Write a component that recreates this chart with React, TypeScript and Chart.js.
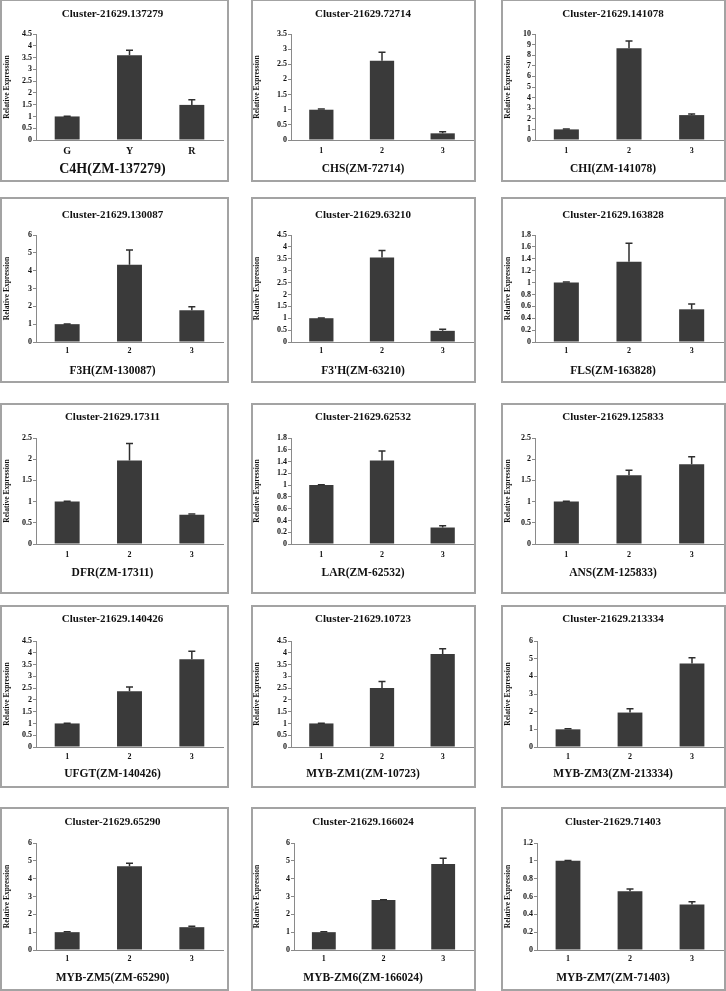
import React, { useEffect, useRef } from 'react';
import { Chart, registerables } from 'chart.js';

Chart.register(...registerables);

// ---------- DATA ----------
const clusterTitles = [
  'Cluster-21629.137279', 'Cluster-21629.72714', 'Cluster-21629.141078',
  'Cluster-21629.130087', 'Cluster-21629.63210', 'Cluster-21629.163828',
  'Cluster-21629.17311', 'Cluster-21629.62532', 'Cluster-21629.125833',
  'Cluster-21629.140426', 'Cluster-21629.10723', 'Cluster-21629.213334',
  'Cluster-21629.65290', 'Cluster-21629.166024', 'Cluster-21629.71403',
];
const geneNames = [
  'C4H(ZM-137279)', 'CHS(ZM-72714)', 'CHI(ZM-141078)',
  'F3H(ZM-130087)', "F3'H(ZM-63210)", 'FLS(ZM-163828)',
  'DFR(ZM-17311)', 'LAR(ZM-62532)', 'ANS(ZM-125833)',
  'UFGT(ZM-140426)', 'MYB-ZM1(ZM-10723)', 'MYB-ZM3(ZM-213334)',
  'MYB-ZM5(ZM-65290)', 'MYB-ZM6(ZM-166024)', 'MYB-ZM7(ZM-71403)',
];
const letterCategories = ['G', 'Y', 'R'];
const numberCategories = ['1', '2', '3'];
const yAxisTitle = 'Relative Expression';

const c4hValues = [1.0, 3.6, 1.49];
const c4hErrors = [0.01, 0.21, 0.22];
const chsValues = [1.0, 2.62, 0.22];
const chsErrors = [0.02, 0.28, 0.05];
const chiValues = [1.0, 8.65, 2.35];
const chiErrors = [0.04, 0.7, 0.1];
const f3hValues = [1.0, 4.33, 1.78];
const f3hErrors = [0.01, 0.83, 0.19];
const f3phValues = [1.0, 3.55, 0.47];
const f3phErrors = [0.01, 0.3, 0.07];
const flsValues = [1.0, 1.35, 0.55];
const flsErrors = [0.01, 0.31, 0.09];
const dfrValues = [1.0, 1.97, 0.69];
const dfrErrors = [0.01, 0.4, 0.02];
const larValues = [1.0, 1.42, 0.28];
const larErrors = [0.005, 0.16, 0.03];
const ansValues = [1.0, 1.62, 1.88];
const ansErrors = [0.01, 0.12, 0.18];
const ufgtValues = [1.0, 2.37, 3.72];
const ufgtErrors = [0.01, 0.18, 0.35];
const mybZm1Values = [1.0, 2.5, 3.95];
const mybZm1Errors = [0.01, 0.28, 0.22];
const mybZm3Values = [1.0, 1.95, 4.72];
const mybZm3Errors = [0.03, 0.22, 0.33];
const mybZm5Values = [1.0, 4.7, 1.28];
const mybZm5Errors = [0.02, 0.16, 0.05];
const mybZm6Values = [1.0, 2.8, 4.82];
const mybZm6Errors = [0.02, 0.02, 0.33];
const mybZm7Values = [1.0, 0.66, 0.51];
const mybZm7Errors = [0.005, 0.025, 0.03];

const yAxisMax = [4.5, 3.5, 10, 6, 4.5, 1.8, 2.5, 1.8, 2.5, 4.5, 4.5, 6, 6, 6, 1.2];
const yAxisStep = [0.5, 0.5, 1, 1, 0.5, 0.2, 0.5, 0.2, 0.5, 0.5, 0.5, 1, 1, 1, 0.2];

const panelValues = [
  c4hValues, chsValues, chiValues, f3hValues, f3phValues, flsValues,
  dfrValues, larValues, ansValues, ufgtValues, mybZm1Values, mybZm3Values,
  mybZm5Values, mybZm6Values, mybZm7Values,
];
const panelErrors = [
  c4hErrors, chsErrors, chiErrors, f3hErrors, f3phErrors, flsErrors,
  dfrErrors, larErrors, ansErrors, ufgtErrors, mybZm1Errors, mybZm3Errors,
  mybZm5Errors, mybZm6Errors, mybZm7Errors,
];

// ---------- LAYOUT (page pixels) ----------
const colBox = [
  { x: 0, w: 229 },
  { x: 251, w: 225 },
  { x: 501, w: 225 },
];
const rowBox = [
  { y: -1, h: 183 },
  { y: 197, h: 186 },
  { y: 403, h: 191 },
  { y: 605, h: 183 },
  { y: 807, h: 184 },
];
const colAxisX = [36, 291, 535];
const colRightX = [223, 473, 723];
const colYTitleX = [7, 257, 508];
const rowTitleY = [14, 215, 417, 619, 822];
const rowTopY = [34, 235, 438, 641, 843];
const rowZeroY = [140, 342, 544, 747, 950];
const rowXLabelY = [151, 351, 555, 757, 959];
const rowXTitleY = [169, 371, 573, 774, 978];
const axisOverride: Record<number, number> = { 11: 537, 13: 294, 14: 537 };

const BORDER = 2;
const FONT = '"Liberation Serif", "Times New Roman", serif';
const BAR_COLOR = '#3a3a3a';
const AXIS_COLOR = '#8a8a8a';
const TEXT_COLOR = '#111';

const errorBarPlugin = {
  id: 'errorBarsDraw',
  afterDatasetsDraw(chart: any) {
    const ds: any = chart.data.datasets[0];
    const errs: number[] = ds.errors || [];
    const meta = chart.getDatasetMeta(0);
    const yScale = chart.scales.y;
    const ctx = chart.ctx;
    ctx.save();
    ctx.strokeStyle = '#2e2e2e';
    ctx.lineWidth = 1.5;
    meta.data.forEach((bar: any, i: number) => {
      const v = ds.data[i] as number;
      const yTop = yScale.getPixelForValue(v + errs[i]);
      ctx.beginPath();
      ctx.moveTo(bar.x, bar.y);
      ctx.lineTo(bar.x, yTop);
      ctx.moveTo(bar.x - 3.5, yTop);
      ctx.lineTo(bar.x + 3.5, yTop);
      ctx.stroke();
    });
    ctx.restore();
  },
};

function fmt(v: number) {
  return String(Number(Number(v).toFixed(1)));
}

function Panel({ index }: { index: number }) {
  const ref = useRef<HTMLCanvasElement | null>(null);
  const r = Math.floor(index / 3);
  const c = index % 3;
  const box = { x: colBox[c].x, y: rowBox[r].y, w: colBox[c].w, h: rowBox[r].h };
  const W = box.w - BORDER * 2;
  const H = box.h - BORDER * 2;
  const ox = box.x + BORDER;
  const oy = box.y + BORDER;

  useEffect(() => {
    if (!ref.current) return;
    const isFirst = index === 0;
    const axisX = (axisOverride[index] ?? colAxisX[c]) - ox;
    const rightX = colRightX[c] - ox;
    const topY = rowTopY[r] - oy;
    const zeroY = rowZeroY[r] - oy;
    const titleY = rowTitleY[r] - oy;
    const xLabY = rowXLabelY[r] - oy;
    const xTitleY = rowXTitleY[r] - oy;
    const yTitleX = colYTitleX[c] - ox;

    const titleSize = 11;
    const titleLH = titleSize * 1.2;
    const xTitleSize = isFirst ? 14 : 11.5;
    const xTitleLH = xTitleSize * 1.2;
    const xTickSize = isFirst ? 10 : 8;
    const xTickLH = xTickSize * 1.2;
    const yTitleSize = 7.5;
    const yTitleLH = yTitleSize * 1.2;

    const subtitleTop = xTitleY - xTitleLH / 2;
    const pos = (n: number) => Math.max(0, n);

    const chart = new Chart(ref.current, {
      type: 'bar',
      data: {
        labels: isFirst ? letterCategories : numberCategories,
        datasets: [
          {
            data: panelValues[index],
            errors: panelErrors[index],
            backgroundColor: BAR_COLOR,
            borderWidth: 0,
            barPercentage: 0.4,
            categoryPercentage: 1,
          } as any,
        ],
      },
      options: {
        responsive: false,
        animation: false,
        devicePixelRatio: 1,
        layout: { padding: { left: 0, top: 0, bottom: 0, right: pos(W - rightX) } },
        plugins: {
          legend: { display: false },
          tooltip: { enabled: false },
          title: {
            display: true,
            text: clusterTitles[index],
            color: TEXT_COLOR,
            font: { family: FONT, size: titleSize, weight: 'bold', lineHeight: 1.2 },
            padding: { top: pos(titleY - titleLH / 2), bottom: pos(topY - titleY - titleLH / 2) },
          },
          subtitle: {
            display: true,
            position: 'bottom',
            text: geneNames[index],
            color: TEXT_COLOR,
            font: { family: FONT, size: xTitleSize, weight: 'bold', lineHeight: 1.2 },
            padding: { top: 0, bottom: pos(H - xTitleY - xTitleLH / 2) },
          },
        },
        scales: {
          x: {
            grid: { display: false, drawTicks: false, tickLength: 0 },
            border: { display: true, color: AXIS_COLOR, width: 1 },
            ticks: {
              color: TEXT_COLOR,
              font: { family: FONT, size: xTickSize, weight: 'bold', lineHeight: 1.2 },
              padding: pos(xLabY - zeroY - xTickLH / 2),
              maxRotation: 0,
            },
            afterFit: (s: any) => {
              s.height = subtitleTop - zeroY;
            },
          },
          y: {
            min: 0,
            max: yAxisMax[index],
            grid: { drawOnChartArea: false, drawTicks: true, tickLength: 3, color: AXIS_COLOR },
            border: { display: true, color: AXIS_COLOR, width: 1 },
            ticks: {
              stepSize: yAxisStep[index],
              autoSkip: false,
              color: TEXT_COLOR,
              padding: 1,
              font: { family: FONT, size: 8, weight: 'bold' },
              callback: (v: any) => fmt(v),
            },
            title: {
              display: true,
              text: yAxisTitle,
              color: TEXT_COLOR,
              font: { family: FONT, size: yTitleSize, weight: 'bold', lineHeight: 1.2 },
              padding: { top: pos(yTitleX - yTitleLH / 2), bottom: 0 },
            },
            afterFit: (s: any) => {
              s.width = axisX;
            },
          },
        },
      } as any,
      plugins: [errorBarPlugin],
    });
    return () => chart.destroy();
  }, [index]);

  return (
    <div
      style={{
        position: 'absolute',
        left: box.x,
        top: box.y,
        width: box.w,
        height: box.h,
        border: `${BORDER}px solid #a3a3a3`,
        boxSizing: 'border-box',
        background: '#fff',
      }}
    >
      <canvas
        ref={ref}
        width={W}
        height={H}
        style={{ position: 'absolute', left: 0, top: 0, width: W, height: H }}
      />
    </div>
  );
}

export default function App() {
  return (
    <div
      style={{
        position: 'absolute',
        left: 0,
        top: 0,
        width: 726,
        height: 991,
        overflow: 'hidden',
        background: '#fff',
      }}
    >
      {clusterTitles.map((_, i) => (
        <Panel key={i} index={i} />
      ))}
    </div>
  );
}
